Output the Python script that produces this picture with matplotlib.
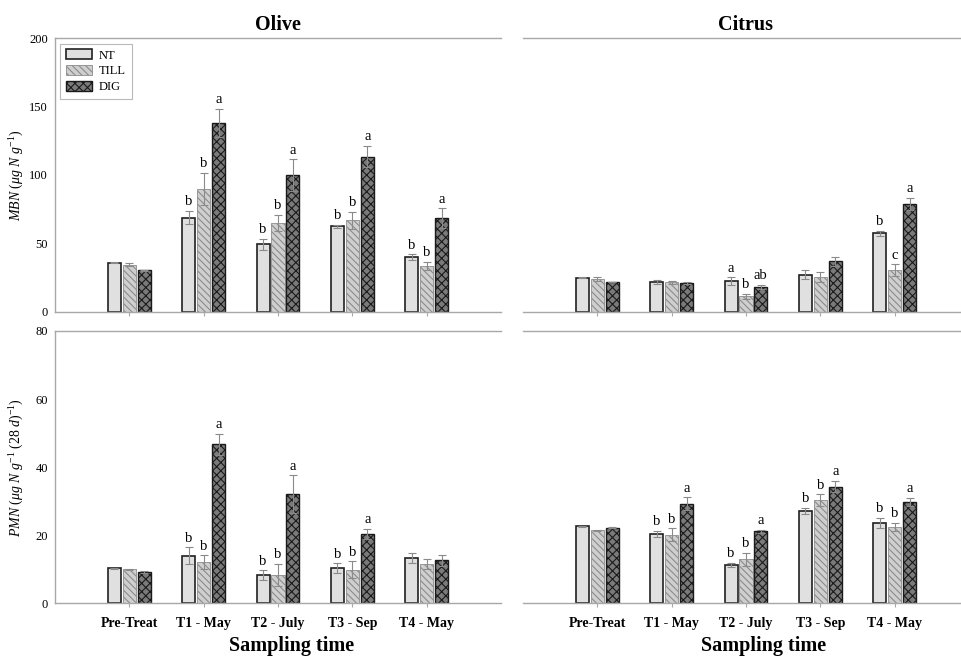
import matplotlib
matplotlib.use('Agg')
import matplotlib.pyplot as plt
import numpy as np

plt.rcParams['font.family'] = ['Liberation Serif', 'DejaVu Serif']
plt.rcParams['mathtext.fontset'] = 'custom'
plt.rcParams['mathtext.rm'] = 'Liberation Serif'
plt.rcParams['mathtext.it'] = 'Liberation Serif:italic'
plt.rcParams['hatch.linewidth'] = 0.8

times = ['Pre-Treat', 'T1 - May', 'T2 - July', 'T3 - Sep', 'T4 - May']
treatments = ['NT', 'TILL', 'DIG']

# MBN, olive
olive_mbn = {
    'NT':   [35.8, 68.8, 49.3, 62.5, 39.8],
    'TILL': [34.4, 89.8, 65.1, 66.8, 33.7],
    'DIG':  [30.3, 137.8, 99.8, 113.4, 68.3],
}
olive_mbn_err = {
    'NT':   [0.4, 4.7, 3.9, 1.2, 2.2],
    'TILL': [1.3, 11.5, 6.0, 6.0, 2.9],
    'DIG':  [0.5, 10.3, 11.7, 7.8, 7.3],
}
olive_mbn_let = {
    'NT':   ['', 'b', 'b', 'b', 'b'],
    'TILL': ['', 'b', 'b', 'b', 'b'],
    'DIG':  ['', 'a', 'a', 'a', 'a'],
}

# MBN, citrus
citrus_mbn = {
    'NT':   [24.9, 21.7, 22.2, 27.1, 57.3],
    'TILL': [23.9, 21.5, 11.3, 25.6, 30.5],
    'DIG':  [21.7, 21.0, 18.1, 36.9, 78.8],
}
citrus_mbn_err = {
    'NT':   [0.4, 1.5, 2.9, 3.2, 2.0],
    'TILL': [1.2, 1.2, 1.7, 3.7, 4.1],
    'DIG':  [0.3, 0.4, 1.7, 3.4, 4.6],
}
citrus_mbn_let = {
    'NT':   ['', '', 'a', '', 'b'],
    'TILL': ['', '', 'b', '', 'c'],
    'DIG':  ['', '', 'ab', '', 'a'],
}

# PMN, olive
olive_pmn = {
    'NT':   [10.3, 13.9, 8.3, 10.3, 13.4],
    'TILL': [10.0, 12.1, 8.3, 9.8, 11.5],
    'DIG':  [9.2, 46.7, 32.1, 20.4, 12.7],
}
olive_pmn_err = {
    'NT':   [0.2, 2.5, 1.4, 1.4, 1.5],
    'TILL': [0.2, 2.0, 3.2, 2.5, 1.5],
    'DIG':  [0.2, 3.0, 5.5, 1.5, 1.6],
}
olive_pmn_let = {
    'NT':   ['', 'b', 'b', 'b', ''],
    'TILL': ['', 'b', 'b', 'b', ''],
    'DIG':  ['', 'a', 'a', 'a', ''],
}

# PMN, citrus
citrus_pmn = {
    'NT':   [22.6, 20.3, 11.2, 27.1, 23.5],
    'TILL': [21.4, 20.1, 12.9, 30.3, 22.5],
    'DIG':  [22.2, 29.2, 21.2, 34.3, 29.8],
}
citrus_pmn_err = {
    'NT':   [0.1, 0.9, 0.6, 1.0, 1.5],
    'TILL': [0.2, 1.9, 1.9, 1.7, 1.2],
    'DIG':  [0.1, 1.9, 0.4, 1.6, 1.2],
}
citrus_pmn_let = {
    'NT':   ['', 'b', 'b', 'b', 'b'],
    'TILL': ['', 'b', 'b', 'b', 'b'],
    'DIG':  ['', 'a', 'a', 'a', 'a'],
}

styles = {
    'NT':   dict(color='#e0e0e0', edgecolor='#202020', hatch=None, linewidth=1.2),
    'TILL': dict(color='#cfcfcf', edgecolor='#8c8c8c', hatch='\\\\\\\\\\', linewidth=0.6),
    'DIG':  dict(color='#7a7a7a', edgecolor='#1a1a1a', hatch='xxxx', linewidth=1.0),
}

spine_col = '#a8a8a8'


def draw_panel(ax, vals, errs, lets, ylim, yticks, show_y):
    x = np.arange(len(times))
    width = 0.175
    step = 0.2
    for i, t in enumerate(treatments):
        pos = x + (i - 1) * step
        ax.bar(pos, vals[t], width, zorder=2, label=t, **styles[t])
        ax.errorbar(pos, vals[t], yerr=errs[t], fmt='none', ecolor='#8a8a8a',
                    elinewidth=0.8, capsize=3.2, capthick=0.8, zorder=3)
        for p, v, e, s in zip(pos, vals[t], errs[t], lets[t]):
            if s:
                ax.annotate(s, (p, v + e), xytext=(0, 2), textcoords='offset points',
                            ha='center', va='bottom', fontsize=10.5)
    ax.set_xlim(-1, 5)
    ax.set_ylim(*ylim)
    ax.set_xticks(x)
    ax.tick_params(axis='x', length=3, color=spine_col, width=0.8)
    ax.spines['right'].set_visible(False)
    for s in ['top', 'bottom', 'left']:
        ax.spines[s].set_color(spine_col)
        ax.spines[s].set_linewidth(1.0)
    if show_y:
        ax.set_yticks(yticks)
        ax.tick_params(axis='y', length=0, labelsize=9, pad=5)
    else:
        ax.spines['left'].set_visible(False)
        ax.set_yticks([])


fig = plt.figure(figsize=(9.62, 6.57), dpi=100)
W, H = 962, 657


def add_ax(l, t, w, h):
    return fig.add_axes([l / W, (H - t - h) / H, w / W, h / H])


ax1 = add_ax(55, 38.3, 446, 273.4)
ax2 = add_ax(523, 38.3, 446, 273.4)
ax3 = add_ax(55, 331, 446, 272.3)
ax4 = add_ax(523, 331, 446, 272.3)

draw_panel(ax1, olive_mbn, olive_mbn_err, olive_mbn_let, (0, 200), [0, 50, 100, 150, 200], True)
draw_panel(ax2, citrus_mbn, citrus_mbn_err, citrus_mbn_let, (0, 200), [], False)
draw_panel(ax3, olive_pmn, olive_pmn_err, olive_pmn_let, (0, 80), [0, 20, 40, 60, 80], True)
draw_panel(ax4, citrus_pmn, citrus_pmn_err, citrus_pmn_let, (0, 80), [], False)

for ax in (ax1, ax2):
    ax.set_xticklabels([])
for ax in (ax3, ax4):
    ax.set_xticklabels(times, fontsize=10, fontweight='bold')
    ax.tick_params(axis='x', pad=7)
    ax.set_xlabel('Sampling time', fontsize=14.5, fontweight='bold')
ax3.xaxis.set_label_coords(0.53, -0.12)
ax4.xaxis.set_label_coords(0.54, -0.12)

ax1.set_title('Olive', fontsize=14.5, fontweight='bold', pad=6)
ax2.set_title('Citrus', fontsize=14.5, fontweight='bold', pad=6)

ax1.set_ylabel(r'$MBN\ (\mu g\ N\ g^{-1})$', fontsize=10)
ax3.set_ylabel(r'$PMN\ (\mu g\ N\ g^{-1}\ (28\ d)^{-1})$', fontsize=10)
ax1.yaxis.set_label_coords(-0.065, 0.5)
ax3.yaxis.set_label_coords(-0.065, 0.5)

leg = ax1.legend(loc='upper left', bbox_to_anchor=(0.012, 0.98), fontsize=9,
                 frameon=True, fancybox=False, edgecolor=spine_col,
                 handlelength=2.1, handleheight=0.8, handletextpad=0.55,
                 labelspacing=0.3, borderpad=0.45, borderaxespad=0)
leg.get_frame().set_linewidth(0.8)

fig.savefig('out.png', dpi=100)
